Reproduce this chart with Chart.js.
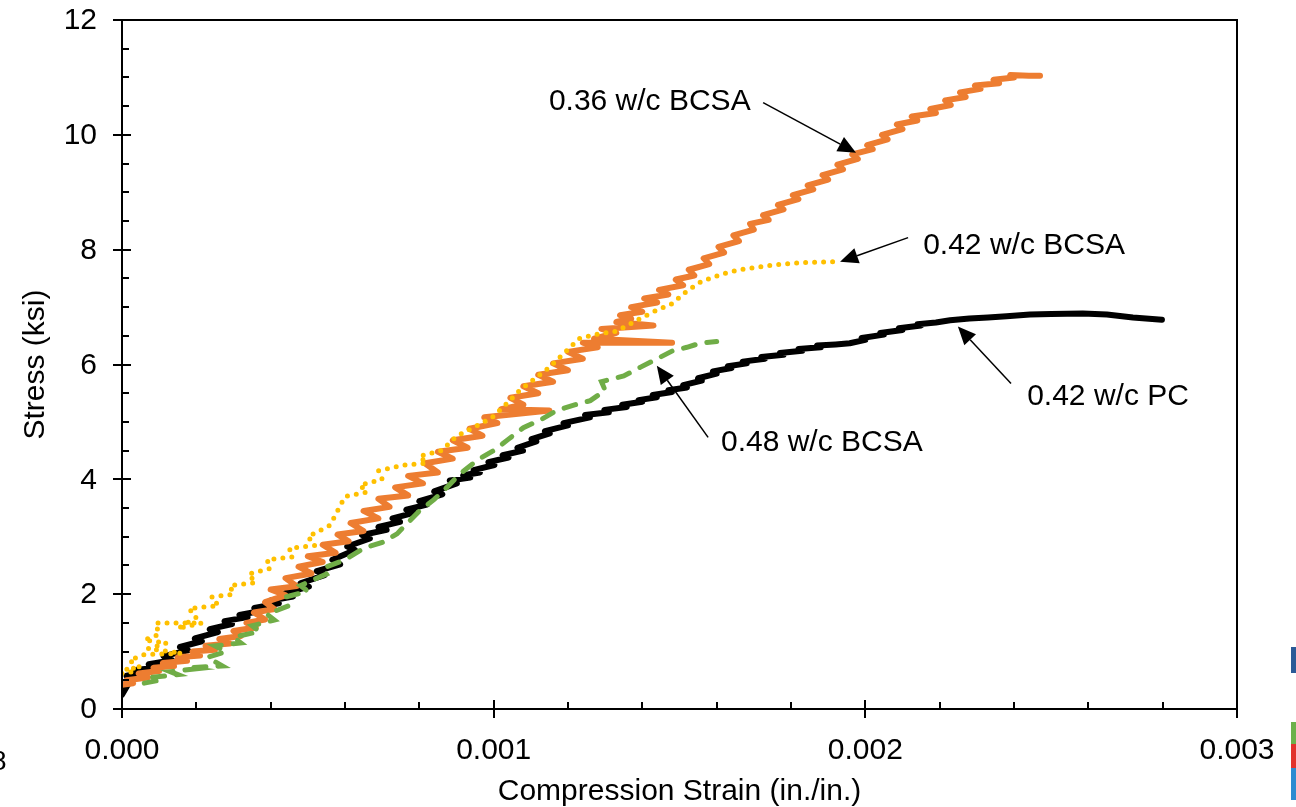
<!DOCTYPE html>
<html>
<head>
<meta charset="utf-8">
<script src="https://cdn.jsdelivr.net/npm/chart.js@4.4.0/dist/chart.umd.min.js"></script>
<style>
  html, body { margin: 0; padding: 0; background: #fff; overflow: hidden; }
  #wrap { position: relative; width: 1296px; height: 807px; }
  #chart { position: absolute; left: 0; top: 0; }
  .edge { position: absolute; left: 1291px; width: 5px; }
  .stray { position: absolute; left: -9px; top: 745px; font: 28px "Liberation Sans", Arial, sans-serif; color: #000; }
</style>
</head>
<body>
<div id="wrap">
  <canvas id="chart" width="1296" height="807"></canvas>
  <div class="stray">8</div>
  <div class="edge" style="top:647px;height:26px;background:#2b5a97"></div>
  <div class="edge" style="top:722px;height:22px;background:#6cb14b"></div>
  <div class="edge" style="top:744px;height:24px;background:#e2312c"></div>
  <div class="edge" style="top:768px;height:32px;background:#2d8bd1"></div>
</div>
<script>
// strain in microstrain (x1e-6 in./in.), stress in ksi
const pc042 = [
  [0,0.25],[18,0.45],[2,0.4],[32,0.55],[12,0.58],[54,0.63],[36,0.68],[92,0.72],[72,0.78],
  [135,0.85],[112,0.92],[178,1.02],[156,1.08],[215,1.18],[196,1.23],[258,1.34],[236,1.39],
  [296,1.48],[276,1.53],[338,1.6],[316,1.64],[377,1.71],[356,1.76],[422,1.84],[400,1.89],
  [460,1.96],[440,2.02],[503,2.13],[480,2.19],[545,2.33],[524,2.4],[587,2.52],[566,2.6],
  [627,2.77],[606,2.83],[667,2.97],[646,3.03],[712,3.12],[690,3.17],[748,3.26],[728,3.32],
  [787,3.42],[765,3.47],[820,3.56],[800,3.62],[862,3.74],[840,3.79],[901,3.93],[882,3.98],
  [937,4.03],[918,4.07],[963,4.12],[946,4.16],[1002,4.25],[986,4.3],[1040,4.38],[1024,4.42],
  [1079,4.5],[1064,4.55],[1115,4.66],[1102,4.7],[1151,4.8],[1138,4.84],[1200,4.94],[1188,4.98],
  [1259,5.08],[1246,5.12],[1310,5.17],[1298,5.21],[1358,5.26],[1346,5.3],[1400,5.35],[1390,5.38],
  [1439,5.43],[1428,5.47],[1480,5.52],[1470,5.55],[1520,5.6],[1510,5.64],[1560,5.72],[1550,5.76],
  [1600,5.84],[1590,5.88],[1640,5.94],[1630,5.97],[1681,6.02],[1670,6.05],[1730,6.1],[1720,6.13],
  [1780,6.17],[1770,6.2],[1830,6.24],[1820,6.27],[1880,6.3],[1870,6.33],[1920,6.35],[1958,6.37],
  [2000,6.43],[1990,6.46],[2050,6.52],[2040,6.55],[2100,6.6],[2090,6.63],[2150,6.68],[2140,6.7],
  [2190,6.73],[2228,6.77],[2280,6.8],[2330,6.82],[2380,6.84],[2443,6.87],[2500,6.88],[2585,6.89],
  [2650,6.87],[2720,6.82],[2798,6.78]
];
const bcsa036 = [
  [0,0.42],[30,0.45],[12,0.5],[70,0.55],[45,0.62],[100,0.66],[85,0.72],[140,0.75],[110,0.8],
  [175,0.84],[150,0.9],[210,0.93],[190,1.0],[250,1.03],[225,1.1],[290,1.14],[262,1.22],
  [320,1.27],[300,1.36],[360,1.42],[335,1.5],[385,1.56],[355,1.68],[410,1.74],[385,1.86],
  [440,1.98],[400,2.08],[470,2.14],[440,2.28],[510,2.36],[475,2.48],[540,2.56],[500,2.66],
  [575,2.72],[540,2.86],[610,2.92],[580,3.04],[650,3.1],[615,3.24],[690,3.32],[650,3.45],
  [720,3.52],[690,3.66],[770,3.72],[735,3.86],[810,3.93],[770,4.06],[850,4.12],[815,4.28],
  [890,4.36],[850,4.48],[930,4.55],[890,4.68],[970,4.76],[935,4.88],[1010,4.98],[975,5.08],
  [1150,5.2],[1020,5.22],[1080,5.3],[1045,5.42],[1120,5.5],[1080,5.62],[1160,5.7],[1120,5.82],
  [1200,5.9],[1160,6.02],[1240,6.1],[1200,6.22],[1280,6.3],[1240,6.38],[1480,6.38],[1270,6.45],
  [1330,6.55],[1290,6.62],[1430,6.68],[1330,6.74],[1370,6.8],[1340,6.86],[1400,6.92],[1370,7.0],
  [1440,7.08],[1405,7.15],[1470,7.22],[1445,7.3],[1510,7.38],[1490,7.48],[1540,7.55],[1525,7.65],
  [1580,7.75],[1565,7.85],[1620,7.95],[1605,8.05],[1660,8.15],[1645,8.25],[1700,8.35],[1690,8.45],
  [1740,8.52],[1725,8.6],[1780,8.7],[1765,8.78],[1820,8.88],[1805,8.95],[1860,9.05],[1845,9.12],
  [1900,9.22],[1885,9.3],[1940,9.4],[1925,9.48],[1980,9.58],[1965,9.66],[2020,9.75],[2005,9.82],
  [2060,9.92],[2045,10.0],[2100,10.1],[2085,10.18],[2140,10.25],[2125,10.32],[2190,10.38],
  [2175,10.45],[2230,10.52],[2215,10.6],[2270,10.66],[2255,10.74],[2310,10.8],[2295,10.86],
  [2360,10.9],[2345,10.96],[2400,11.0],[2390,11.04],[2440,11.03],[2470,11.03]
];
const bcsa042 = [
  [0,0.62],[30,0.65],[10,0.7],[50,0.72],[20,0.85],[60,0.95],[160,0.97],[70,1.05],[120,1.15],
  [60,1.2],[100,1.3],[90,1.5],[215,1.5],[150,1.4],[200,1.6],[180,1.75],[260,1.8],[240,1.95],
  [300,2.0],[290,2.15],[360,2.2],[340,2.35],[400,2.45],[390,2.6],[460,2.65],[450,2.8],
  [520,2.85],[500,3.0],[560,3.2],[580,3.45],[600,3.7],[660,3.78],[640,3.9],[700,4.0],
  [690,4.15],[760,4.25],[820,4.28],[800,4.4],[860,4.5],[900,4.75],[930,4.85],[960,4.95],
  [1000,5.1],[1040,5.35],[1070,5.55],[1110,5.75],[1150,5.95],[1190,6.2],[1230,6.45],[1270,6.52],
  [1330,6.58],[1360,6.68],[1400,6.82],[1440,6.95],[1480,7.06],[1520,7.28],[1560,7.45],[1617,7.58],
  [1660,7.65],[1708,7.69],[1750,7.73],[1797,7.76],[1850,7.78],[1913,7.79],[1930,7.8]
];
const bcsa048 = [
  [60,0.45],[100,0.5],[80,0.55],[150,0.6],[130,0.65],[200,0.7],[180,0.72],[270,0.75],[230,0.9],
  [280,1.0],[250,1.1],[320,1.15],[300,1.25],[370,1.35],[350,1.45],[410,1.55],[390,1.65],
  [450,1.8],[440,1.95],[500,2.05],[480,2.15],[550,2.35],[540,2.45],[600,2.6],[650,2.8],
  [700,2.9],[740,3.05],[770,3.25],[800,3.45],[840,3.65],[874,3.86],[910,4.1],
  [960,4.35],[1000,4.5],[1040,4.7],[1080,4.9],[1130,5.05],[1170,5.2],[1220,5.3],[1260,5.37],
  [1300,5.55],[1290,5.7],[1350,5.8],[1394,5.95],[1440,6.1],[1482,6.24],[1520,6.3],[1555,6.37],[1600,6.4]
];

const xTickLabels = ["0.000", "0.001", "0.002", "0.003"];
const yTickLabels = ["0", "2", "4", "6", "8", "10", "12"];

// callouts: text anchor, arrow tail and arrow tip, all in (microstrain, ksi)
const callouts = [
  { text: "0.36 w/c BCSA", at: [1420, 10.57], tail: [1725, 10.56], tip: [1975, 9.69] },
  { text: "0.42 w/c BCSA", at: [2427, 8.07], tail: [2115, 8.21], tip: [1932, 7.79] },
  { text: "0.42 w/c PC", at: [2653, 5.43], tail: [2392, 5.67], tip: [2249, 6.66] },
  { text: "0.48 w/c BCSA", at: [1883, 4.64], tail: [1577, 4.73], tip: [1439, 5.98] },
];

const FONT = "'Liberation Sans', Arial, sans-serif";
const toXY = (arr) => arr.map(([s, f]) => ({ x: s / 1e6, y: f }));

const axesPlugin = {
  id: "axesPlugin",
  afterDatasetsDraw(chart) {
    const { ctx, chartArea: a, scales } = chart;
    const x = scales.x, y = scales.y;
    ctx.save();
    ctx.strokeStyle = "#000";
    ctx.lineWidth = 2;
    ctx.strokeRect(a.left, a.top, a.right - a.left, a.bottom - a.top);
    ctx.beginPath();
    for (let i = 0; i <= 24; i++) {
      const py = Math.round(y.getPixelForValue(i * 0.5));
      if (i % 4 === 0) {
        ctx.moveTo(a.left - 9, py);
        ctx.lineTo(a.left + (i === 24 ? 0 : 9), py);
      } else {
        ctx.moveTo(a.left, py);
        ctx.lineTo(a.left + 7, py);
      }
    }
    for (let i = 0; i <= 15; i++) {
      const px = Math.round(x.getPixelForValue(i * 0.0002));
      if (i % 5 === 0) {
        ctx.moveTo(px, a.bottom + 9);
        ctx.lineTo(px, a.bottom - 9);
      } else {
        ctx.moveTo(px, a.bottom);
        ctx.lineTo(px, a.bottom - 7);
      }
    }
    ctx.stroke();

    ctx.fillStyle = "#000";
    ctx.font = "30px " + FONT;
    ctx.textBaseline = "middle";

    // y tick labels
    ctx.textAlign = "right";
    yTickLabels.forEach((t) => {
      ctx.fillText(t, a.left - 25, y.getPixelForValue(Number(t)) + 1);
    });

    // callouts
    ctx.textAlign = "center";
    ctx.lineWidth = 1.5;
    callouts.forEach((c) => {
      ctx.fillText(c.text, x.getPixelForValue(c.at[0] / 1e6), y.getPixelForValue(c.at[1]));
      const tx = x.getPixelForValue(c.tail[0] / 1e6), ty = y.getPixelForValue(c.tail[1]);
      const hx = x.getPixelForValue(c.tip[0] / 1e6), hy = y.getPixelForValue(c.tip[1]);
      const ang = Math.atan2(hy - ty, hx - tx);
      const len = 18, half = 8;
      const bx = hx - len * Math.cos(ang), by = hy - len * Math.sin(ang);
      ctx.beginPath();
      ctx.moveTo(tx, ty);
      ctx.lineTo(bx, by);
      ctx.stroke();
      ctx.beginPath();
      ctx.moveTo(hx, hy);
      ctx.lineTo(bx + half * Math.sin(ang), by - half * Math.cos(ang));
      ctx.lineTo(bx - half * Math.sin(ang), by + half * Math.cos(ang));
      ctx.closePath();
      ctx.fill();
    });
    ctx.restore();
  },
};

const ctx = document.getElementById("chart").getContext("2d");
new Chart(ctx, {
  type: "scatter",
  data: {
    datasets: [
      {
        label: "0.42 w/c BCSA",
        data: toXY(bcsa042),
        showLine: true,
        borderColor: "#FFC000",
        borderWidth: 5,
        borderDash: [0, 9],
        borderCapStyle: "round",
        pointRadius: 0,
        order: 1,
      },
      {
        label: "0.48 w/c BCSA",
        data: toXY(bcsa048),
        showLine: true,
        borderColor: "#70AD47",
        borderWidth: 5,
        borderDash: [12, 12],
        borderCapStyle: "round",
        pointRadius: 0,
        order: 2,
      },
      {
        label: "0.36 w/c BCSA",
        data: toXY(bcsa036),
        showLine: true,
        borderColor: "#ED7D31",
        borderWidth: 6,
        borderJoinStyle: "round",
        borderCapStyle: "round",
        pointRadius: 0,
        order: 3,
      },
      {
        label: "0.42 w/c PC",
        data: toXY(pc042),
        showLine: true,
        borderColor: "#000000",
        borderWidth: 6,
        borderJoinStyle: "round",
        borderCapStyle: "round",
        pointRadius: 0,
        order: 4,
      },
    ],
  },
  options: {
    responsive: false,
    animation: false,
    devicePixelRatio: 1,
    layout: { padding: { top: 20, right: 59, left: 0, bottom: 0 } },
    plugins: { legend: { display: false }, tooltip: { enabled: false } },
    scales: {
      x: {
        type: "linear",
        min: 0,
        max: 0.003,
        grid: { display: false },
        border: { display: false },
        ticks: {
          stepSize: 0.001,
          padding: 16,
          color: "#000",
          font: { size: 30, family: FONT },
          maxRotation: 0,
          callback: (v, i) => xTickLabels[i],
        },
        title: {
          display: true,
          text: "Compression Strain (in./in.)",
          color: "#000",
          font: { size: 30, family: FONT },
          padding: { top: 0, bottom: -3 },
        },
        afterFit: (s) => { s.height = 98; },
      },
      y: {
        type: "linear",
        min: 0,
        max: 12,
        grid: { display: false },
        border: { display: false },
        ticks: { stepSize: 2, display: false },
        title: {
          display: true,
          text: "Stress (ksi)",
          color: "#000",
          font: { size: 30, family: FONT },
          padding: { top: 18, bottom: 0 },
        },
        afterFit: (s) => { s.width = 122; },
      },
    },
  },
  plugins: [axesPlugin],
});
</script>
</body>
</html>
